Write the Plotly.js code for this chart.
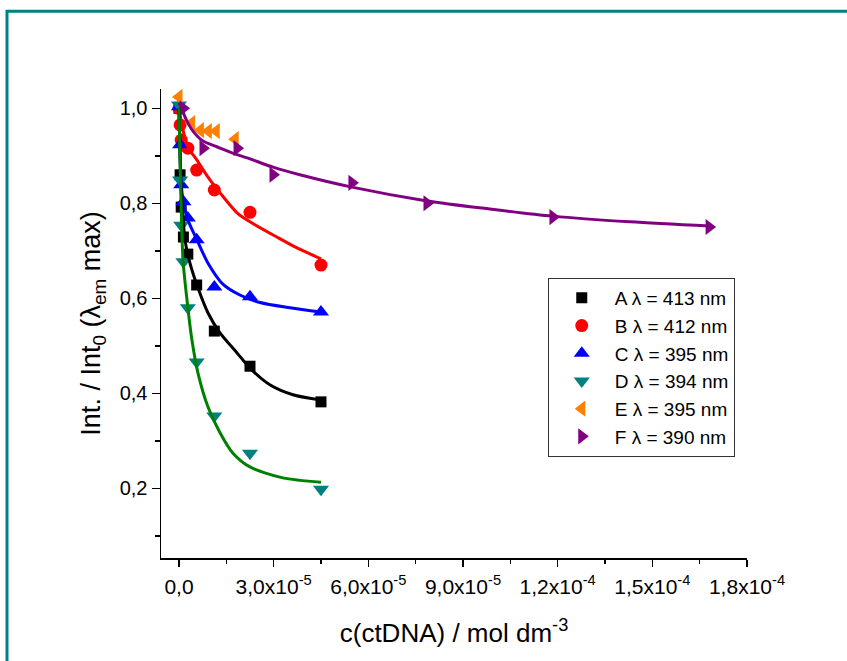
<!DOCTYPE html>
<html>
<head>
<meta charset="utf-8">
<script src="https://cdn.plot.ly/plotly-3.0.1.min.js"></script>
<style>html,body{margin:0;padding:0;background:#fff;}#chart{width:847px;height:661px;}</style>
</head>
<body>
<div id="chart"></div>
<script>
// concentrations in units of 1e-5 mol dm^-3 (scaled below)
const xACD = [0, 0.035, 0.07, 0.14, 0.28, 0.56, 1.12, 2.25, 4.5];
const yA = [1.0, 0.860, 0.792, 0.729, 0.693, 0.628, 0.531, 0.457, 0.382];
const yC = [1.003, 0.923, 0.839, 0.803, 0.769, 0.723, 0.624, 0.603, 0.571];
const yD = [1.007, 0.849, 0.754, 0.677, 0.580, 0.466, 0.352, 0.274, 0.198];
const xB = [0, 0.035, 0.07, 0.28, 0.56, 1.12, 2.25, 4.5];
const yB = [1.0, 0.965, 0.933, 0.916, 0.870, 0.828, 0.781, 0.670];
const xE = [0, 0.40, 0.68, 0.93, 1.18, 1.78];
const yE = [1.024, 0.969, 0.954, 0.952, 0.952, 0.935];
const xF = [0.13, 0.76, 1.84, 2.98, 5.48, 7.86, 11.85, 16.8];
const yF = [1.0, 0.916, 0.916, 0.860, 0.843, 0.800, 0.771, 0.750];

// fitted curves
const fitAx = [0, 0.032, 0.063, 0.095, 0.19, 0.348, 0.60, 0.92, 1.30, 1.84, 2.25, 2.88, 3.61, 4.50];
const fitAy = [1.0, 0.912, 0.838, 0.807, 0.723, 0.674, 0.622, 0.569, 0.527, 0.485, 0.453, 0.418, 0.397, 0.386];
const fitBx = [0, 0.127, 0.285, 0.57, 0.92, 1.30, 1.84, 2.25, 3.10, 3.74, 4.50];
const fitBy = [1.0, 0.954, 0.918, 0.891, 0.855, 0.822, 0.780, 0.761, 0.729, 0.706, 0.683];
const fitCx = [0, 0.032, 0.063, 0.127, 0.285, 0.57, 0.92, 1.39, 1.93, 2.57, 3.52, 4.50];
const fitCy = [1.0, 0.912, 0.849, 0.807, 0.765, 0.723, 0.674, 0.630, 0.607, 0.591, 0.580, 0.571];
const fitDx = [0, 0.032, 0.063, 0.127, 0.253, 0.41, 0.60, 0.92, 1.30, 1.71, 2.25, 3.29, 4.50];
const fitDy = [1.0, 0.891, 0.807, 0.681, 0.597, 0.512, 0.443, 0.371, 0.317, 0.274, 0.245, 0.222, 0.213];
const fitFx = [0, 0.127, 0.253, 0.443, 0.76, 1.20, 1.68, 2.19, 2.98, 3.83, 5.48, 7.86, 9.85, 11.85, 14.29, 16.82];
const fitFy = [1.012, 0.992, 0.973, 0.952, 0.931, 0.919, 0.906, 0.895, 0.876, 0.860, 0.834, 0.805, 0.788, 0.773, 0.761, 0.752];

const names = ['A \u03bb = 413 nm', 'B \u03bb = 412 nm', 'C \u03bb = 395 nm', 'D \u03bb = 394 nm', 'E \u03bb = 395 nm', 'F \u03bb = 390 nm'];
const xTickVals = [0, 3e-5, 6e-5, 9e-5, 1.2e-4, 1.5e-4, 1.8e-4];
const xTickText = ['0,0', '3,0x10<sup>-5</sup>', '6,0x10<sup>-5</sup>', '9,0x10<sup>-5</sup>', '1,2x10<sup>-4</sup>', '1,5x10<sup>-4</sup>', '1,8x10<sup>-4</sup>'];
const xMinorVals = [1.5e-5, 4.5e-5, 7.5e-5, 1.05e-4, 1.35e-4, 1.65e-4];
const yTickVals = [0.2, 0.4, 0.6, 0.8, 1.0];
const yTickText = ['0,2', '0,4', '0,6', '0,8', '1,0'];
const yMinorVals = [0.1, 0.3, 0.5, 0.7, 0.9];

const sc = v => v.map(a => a * 1e-5);

function pts(x, y, name, color, symbol, size) {
  return {x: sc(x), y: y, name: name, type: 'scatter', mode: 'markers',
    marker: {color: color, symbol: symbol, size: size, line: {width: 0}}, cliponaxis: false};
}
function fit(x, y, color) {
  return {x: sc(x), y: y, type: 'scatter', mode: 'lines', showlegend: false, hoverinfo: 'skip',
    line: {color: color, width: 3, shape: 'spline', smoothing: 0.8}};
}

const data = [
  pts(xACD, yA, names[0], '#000000', 'square', 11),
  pts(xB, yB, names[1], '#ff0000', 'circle', 13),
  pts(xACD, yC, names[2], '#0000ff', 'triangle-up', 14),
  pts(xACD, yD, names[3], '#008080', 'triangle-down', 14),
  pts(xE, yE, names[4], '#ff8000', 'triangle-left', 14),
  pts(xF, yF, names[5], '#800080', 'triangle-right', 14),
  fit(fitFx, fitFy, '#800080'),
  fit(fitBx, fitBy, '#ff0000'),
  fit(fitCx, fitCy, '#0000ff'),
  fit(fitAx, fitAy, '#000000'),
  fit(fitDx, fitDy, '#008000')
];

const font = 'Liberation Sans, Arial, sans-serif';
const layout = {
  width: 847, height: 661,
  margin: {l: 161, r: 100, t: 89, b: 103},
  paper_bgcolor: '#ffffff', plot_bgcolor: '#ffffff',
  font: {family: font, color: '#000', size: 20},
  showlegend: true,
  legend: {x: 0.66, y: 0.597, xanchor: 'left', yanchor: 'top', bgcolor: '#fff',
    bordercolor: '#333', borderwidth: 1, font: {family: font, size: 19, color: '#000'},
    itemwidth: 56, traceorder: 'normal', entrywidth: 138, entrywidthmode: 'pixels'},
  xaxis: {
    range: [-0.57e-5, 1.8e-4], showline: true, linecolor: '#000', linewidth: 1.5,
    showgrid: false, zeroline: false, ticks: 'outside', ticklen: 7, tickwidth: 1.5, tickcolor: '#000',
    tickvals: xTickVals, ticktext: xTickText, tickfont: {family: font, size: 21}, ticklabelstandoff: 2,
    minor: {tickvals: xMinorVals, ticks: 'outside', ticklen: 4, tickwidth: 1.5, tickcolor: '#000'},
    title: {text: 'c(ctDNA) / mol dm<sup>-3</sup>', font: {family: font, size: 26}, standoff: 27}
  },
  yaxis: {
    range: [0.0533, 1.0406], showline: true, linecolor: '#000', linewidth: 1.5,
    showgrid: false, zeroline: false, ticks: 'outside', ticklen: 8, tickwidth: 1.5, tickcolor: '#000',
    tickvals: yTickVals, ticktext: yTickText, tickfont: {family: font, size: 20},
    minor: {tickvals: yMinorVals, ticks: 'outside', ticklen: 5, tickwidth: 1.5, tickcolor: '#000'},
    title: {text: 'Int. / Int<sub>0</sub> (\u03bb<sub>em</sub> max)', font: {family: font, size: 27}, standoff: 11}
  },
  shapes: [{type: 'rect', xref: 'paper', yref: 'paper', x0: -0.2628, x1: 1.2, y0: -0.27, y1: 1.1657,
    line: {color: '#008080', width: 3}, fillcolor: 'rgba(0,0,0,0)', layer: 'below'}]
};

Plotly.newPlot('chart', data, layout, {displayModeBar: false, staticPlot: true});
</script>
</body>
</html>
